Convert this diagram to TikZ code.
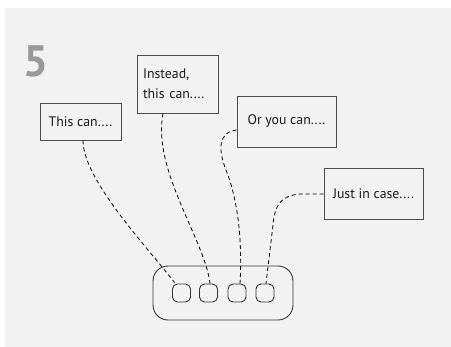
\documentclass[tikz,border=0pt]{standalone}
\usepackage{fontspec}
\setmainfont{PT Sans}
\begin{document}
\begin{tikzpicture}[x=1pt,y=-1pt,
  lbl/.style={draw=black!70,line width=0.9pt,fill=none,inner sep=0pt,text=black!90,font=\fontsize{13.8}{20}\selectfont},
  port/.style={draw=black!80,line width=0.9pt,rounded corners=5pt,minimum width=18pt,minimum height=18pt,inner sep=0pt},
  link/.style={draw=black,line width=0.8pt,dash pattern=on 4pt off 3pt}]
\useasboundingbox (0,0) rectangle (451,347);
\fill[white] (0,0) rectangle (451,347);
\fill[black!5] (5,8) rectangle (451,347);
\node[text=black!40,font=\fontsize{44}{44}\selectfont\bfseries,anchor=center] (num) at (36,61) {5};
\node[lbl,minimum width=81pt,minimum height=37pt] (b1) at (80.5,121.5) {This can....};
\node[lbl,minimum width=81pt,minimum height=58pt,align=left,text width=69pt] (b2) at (177.5,84) {Instead,\\this can....};
\node[lbl,minimum width=99pt,minimum height=51pt] (b3) at (286.5,121.5) {Or you can....};
\node[lbl,minimum width=99pt,minimum height=51pt] (b4) at (373.5,193.5) {Just in case....};
\node[draw=black!80,line width=0.9pt,rounded corners=15pt,minimum width=140pt,minimum height=54pt] (hub) at (223,293) {};
\node[port] (s1) at (181.5,293) {};
\node[port] (s2) at (208.5,293) {};
\node[port] (s3) at (237,293) {};
\node[port] (s4) at (265,293) {};
\draw[link] ([xshift=2.5pt]b1.south) .. controls +(0,40) and (150,250) .. ([xshift=-7pt,yshift=1pt]s1.north);
\draw[link] ([xshift=-14.5pt]b2.south) .. controls (152,170) and (205,240) .. ([xshift=1.5pt]s2.north);
\draw[link] ([yshift=-8.5pt]b3.west) .. controls (218,132) and (218,150) .. (226,170) .. controls (240,205) and (242,250) .. ([xshift=3pt]s3.north);
\draw[link] ([yshift=-0.5pt]b4.west) -- (300,194) .. controls (280,196) and (275,205) .. (273,225) -- ([xshift=1pt]s4.north);
\end{tikzpicture}
\end{document}
